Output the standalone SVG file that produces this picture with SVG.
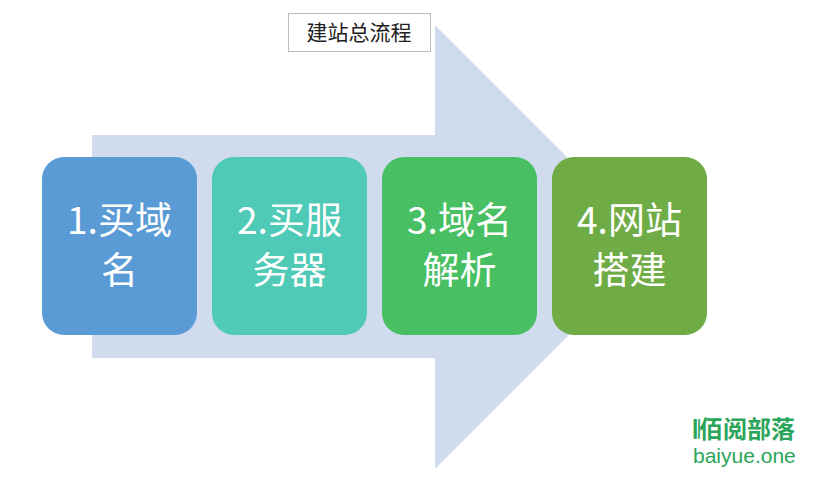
<svg xmlns="http://www.w3.org/2000/svg" width="816" height="480" viewBox="0 0 816 480">
<style>
.n{font-family:"Noto Sans CJK SC","Liberation Sans",sans-serif;font-size:37px;fill:#fff;text-anchor:middle}
.t{font-family:"Noto Sans CJK SC",sans-serif;font-size:21px;fill:#222}
</style>
<rect width="816" height="480" fill="#fff"/>
<g id="arrow"><polygon points="92,135 435,135 435,25 657,247 435,469 435,358 92,358" fill="#d0dcee"/></g>
<g id="title"><rect x="288.5" y="13.5" width="142" height="38" fill="#fff" stroke="#bbb"/><text class="t" x="359" y="40" text-anchor="middle">建站总流程</text></g>
<g id="connectors"></g>
<g id="n1"><rect x="42" y="157" width="155" height="178" rx="22" fill="#5b9bd5"/><text class="n" x="119.5" y="234">1.买域</text><text class="n" x="119.5" y="284">名</text></g>
<g id="n2"><rect x="212" y="157" width="155" height="178" rx="22" fill="#4fcab6"/><text class="n" x="289.5" y="234">2.买服</text><text class="n" x="289.5" y="284">务器</text></g>
<g id="n3"><rect x="382" y="157" width="155" height="178" rx="22" fill="#47bf62"/><text class="n" x="459.5" y="234">3.域名</text><text class="n" x="459.5" y="284">解析</text></g>
<g id="n4"><rect x="552" y="157" width="155" height="178" rx="22" fill="#70ac46"/><text class="n" x="629.5" y="234">4.网站</text><text class="n" x="629.5" y="284">搭建</text></g>
<g id="watermark" fill="#2aa55a" font-family="Noto Sans CJK SC,sans-serif">
<text x="694" y="438" font-size="24" font-weight="bold">𝄃佰阅部落</text>
<text x="693" y="463" font-size="21" font-family="Liberation Sans,sans-serif">baiyue.one</text>
</g>
</svg>
